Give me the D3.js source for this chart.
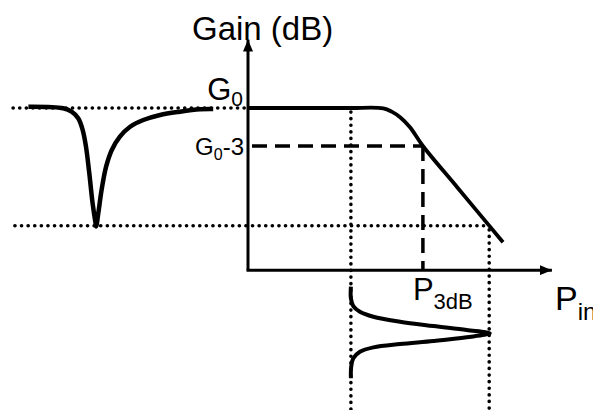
<!DOCTYPE html>
<html>
<head>
<meta charset="utf-8">
<script src="https://cdn.jsdelivr.net/npm/d3@7"></script>
<style>
  body { margin: 0; background: #fff; }
  svg { display: block; font-family: "Liberation Sans", Arial, sans-serif; }
</style>
</head>
<body>
<svg width="593" height="410"></svg>
<script>
// gain vs input power (Pin), schematic units
const transferCurve = [
  [0, 0], [17.3, 0], [34, 0], [45.1, -0.03], [47.9, -0.29], [50.7, -0.73],
  [54, -1.52], [58.3, -3], [70, -6.33], [85, -10.6]
];
// notch on the left side of the gain axis  [x, gain]
const notchCurve = [
  [-73.2, 0.1], [-61.6, -0.02], [-58.8, -0.29], [-56.6, -0.81], [-55.1, -1.74],
  [-54.0, -3.06], [-52.9, -5.16], [-51.8, -7.52], [-50.8, -9.1], [-50.6, -9.35],
  [-49.9, -8.31], [-48.8, -6.47], [-47.3, -4.63], [-45.4, -3.31], [-42.7, -2.26],
  [-39.3, -1.48], [-34.9, -0.95], [-29.3, -0.55], [-22.7, -0.29], [-16.0, -0.1],
  [-11.6, -0.08]
];
// input power distribution below the Pin axis  [Pin, t]
const pulseCurve = [
  [34.3, 0], [34.3, 1.27], [35.1, 2.11], [37.3, 2.73], [41.8, 3.28], [50.7, 3.82],
  [61.8, 4.29], [72.9, 4.73], [80.6, 5.09], [72.9, 5.52], [61.8, 5.93], [50.7, 6.26],
  [41.8, 6.62], [37.3, 7.1], [35.1, 7.82], [34.4, 8.73], [34.3, 10]
];

const G0 = 0;
const G0minus3 = -3;
const gainLow = -9.3;
const gainAxisBottom = -12.8;
const gainAxisTop = 5.4;
const P3dB = 58.3;
const pinMin = 34.3;
const pinMax = 80.4;
const pinAxisEnd = 101.3;
const dottedStart = [-78.3, -77.7];

const svg = d3.select("svg");
const width = +svg.attr("width");
const height = +svg.attr("height");

svg.append("rect").attr("width", width).attr("height", height).attr("fill", "#fff");

const x = d3.scaleLinear().domain([0, 100]).range([248, 548]);
const y = d3.scaleLinear().domain([-3, 0]).range([146, 108]);
const t = d3.scaleLinear().domain([0, 10]).range([286.7, 378.3]);

// arrow head
svg.append("defs").append("marker")
  .attr("id", "arrow")
  .attr("markerUnits", "userSpaceOnUse")
  .attr("viewBox", "0 0 12 10")
  .attr("refX", 12).attr("refY", 5)
  .attr("markerWidth", 12).attr("markerHeight", 10)
  .attr("orient", "auto")
  .append("path")
  .attr("d", "M0,0L12,5L0,10Z")
  .attr("fill", "#000");

// dotted guide lines
const dotted = [
  [[dottedStart[0], G0], [pinMin, G0]],
  [[dottedStart[1], gainLow], [pinMax, gainLow]]
];
svg.selectAll(".hdot")
  .data(dotted)
  .join("line")
  .attr("x1", d => x(d[0][0])).attr("y1", d => y(d[0][1]))
  .attr("x2", d => x(d[1][0])).attr("y2", d => y(d[1][1]))
  .attr("stroke", "#000").attr("stroke-width", 3.6)
  .attr("stroke-linecap", "round")
  .attr("stroke-dasharray", "0.1,6.5");

svg.selectAll(".vdot")
  .data([[pinMin, G0], [pinMax, gainLow]])
  .join("line")
  .attr("x1", d => x(d[0])).attr("y1", d => y(d[1]) + 4)
  .attr("x2", d => x(d[0])).attr("y2", height)
  .attr("stroke", "#000").attr("stroke-width", 3.6)
  .attr("stroke-linecap", "round")
  .attr("stroke-dasharray", "0.1,6.5");

// dashed 3 dB lines
svg.append("line")
  .attr("x1", x(0) + 4).attr("y1", y(G0minus3))
  .attr("x2", x(P3dB)).attr("y2", y(G0minus3))
  .attr("stroke", "#000").attr("stroke-width", 3.5)
  .attr("stroke-dasharray", "15,8");

svg.append("line")
  .attr("x1", x(P3dB)).attr("y1", y(G0minus3))
  .attr("x2", x(P3dB)).attr("y2", y(gainAxisBottom))
  .attr("stroke", "#000").attr("stroke-width", 3.5)
  .attr("stroke-dasharray", "15,8");

// axes
svg.append("line")
  .attr("x1", x(0)).attr("y1", y(gainAxisBottom))
  .attr("x2", x(0)).attr("y2", y(gainAxisTop))
  .attr("stroke", "#000").attr("stroke-width", 3)
  .attr("marker-end", "url(#arrow)");

svg.append("line")
  .attr("x1", x(0) - 1.5).attr("y1", y(gainAxisBottom))
  .attr("x2", x(pinAxisEnd)).attr("y2", y(gainAxisBottom))
  .attr("stroke", "#000").attr("stroke-width", 3)
  .attr("marker-end", "url(#arrow)");

// curves
const gainLine = d3.line()
  .x(d => x(d[0]))
  .y(d => y(d[1]))
  .curve(d3.curveCatmullRom.alpha(0.5));

svg.append("path")
  .attr("d", gainLine(transferCurve))
  .attr("fill", "none").attr("stroke", "#000").attr("stroke-width", 3.8);

svg.append("path")
  .attr("d", gainLine(notchCurve))
  .attr("fill", "none").attr("stroke", "#000").attr("stroke-width", 4.5)
  .attr("stroke-linejoin", "round");

svg.append("path")
  .attr("d", d3.line().x(d => x(d[0])).y(d => t(d[1])).curve(d3.curveCatmullRom.alpha(0.5))(pulseCurve))
  .attr("fill", "none").attr("stroke", "#000").attr("stroke-width", 4)
  .attr("stroke-linejoin", "round");

// labels
svg.append("text")
  .attr("x", 192).attr("y", 40)
  .style("font-size", "33px")
  .text("Gain (dB)");

const g0 = svg.append("text")
  .attr("x", x(0) - 5).attr("y", 100)
  .attr("text-anchor", "end")
  .style("font-size", "31px");
g0.append("tspan").text("G");
g0.append("tspan").attr("dy", 6).style("font-size", "21px").text("0");

const g3 = svg.append("text")
  .attr("x", x(0) - 4).attr("y", 155)
  .attr("text-anchor", "end")
  .style("font-size", "24px");
g3.append("tspan").text("G");
g3.append("tspan").attr("dy", 5).style("font-size", "16px").text("0");
g3.append("tspan").attr("dy", -5).text("-3");

const p3 = svg.append("text")
  .attr("x", x(P3dB) - 10).attr("y", 300)
  .style("font-size", "31px");
p3.append("tspan").text("P");
p3.append("tspan").attr("dy", 9).style("font-size", "22px").text("3dB");

// the reference cuts this label at the right edge too
const pin = svg.append("text")
  .attr("x", 555).attr("y", 310)
  .style("font-size", "34px");
pin.append("tspan").text("P");
pin.append("tspan").attr("dy", 10).style("font-size", "24px").text("in");
</script>
</body>
</html>
